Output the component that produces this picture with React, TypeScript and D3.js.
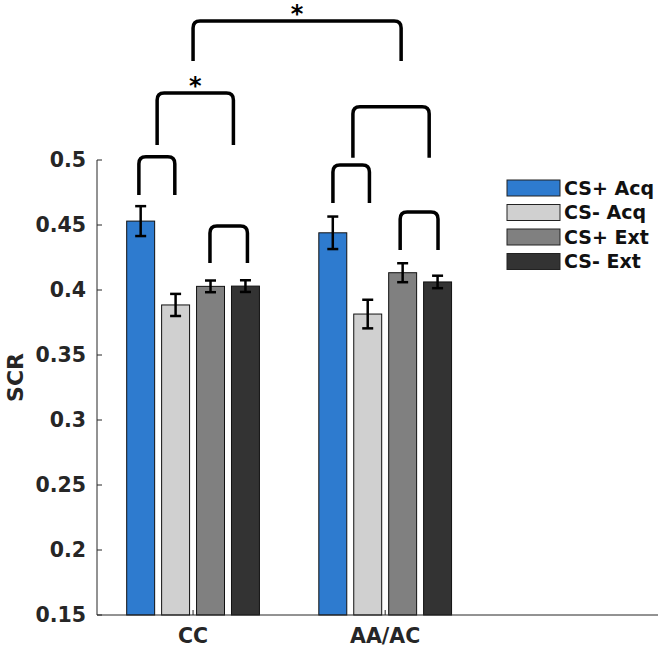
import * as d3 from "d3";
import { useEffect, useRef } from "react";

const groups = ["CC", "AA/AC"];
const conditions = ["CS+ Acq", "CS- Acq", "CS+ Ext", "CS- Ext"];
const barColors = ["#2e7bcf", "#d0d0d0", "#808080", "#333333"];

// mean SCR per condition, one array per group
const meanCC = [0.453, 0.3885, 0.4028, 0.403];
const meanAA = [0.444, 0.3815, 0.4133, 0.4062];
const errCC = [0.0115, 0.0085, 0.0045, 0.0045];
const errAA = [0.0125, 0.011, 0.0073, 0.0048];

const yTicks = [0.15, 0.2, 0.25, 0.3, 0.35, 0.4, 0.45, 0.5];

// significance brackets (x in group units, y in SCR units)
const bracketX1 = [0.718, 1.088, 0.813, 1.728, 2.078, 1.832, 1.0];
const bracketX2 = [0.905, 1.283, 1.21, 1.918, 2.275, 2.229, 2.083];
const bracketTop = [0.5025, 0.4492, 0.5515, 0.4962, 0.46, 0.541, 0.6069];
const bracketBottom = [0.4731, 0.4208, 0.5115, 0.4669, 0.4308, 0.5018, 0.5762];
const bracketStar = [false, false, true, false, false, false, true];

export default function App() {
  const ref = useRef<SVGSVGElement>(null);

  useEffect(() => {
    const width = 661,
      height = 648;
    const left = 97,
      right = 658,
      top = 160,
      bottom = 615;
    const font = "'DejaVu Sans', sans-serif";
    const axisColor = "#262626";

    const svg = d3.select(ref.current);
    svg.selectAll("*").remove();
    svg.attr("width", width).attr("height", height);

    const x = d3.scaleLinear().domain([0.5, 3.42]).range([left, right]);
    const y = d3.scaleLinear().domain([0.15, 0.5]).range([bottom, top]);

    const step = 0.1818;
    const barW = x(0.1455) - x(0);

    const means = [meanCC, meanAA];
    const errs = [errCC, errAA];
    const bars = groups.flatMap((g, gi) =>
      conditions.map((c, ci) => ({
        gi,
        ci,
        cx: x(gi + 1 + (ci - 1.5) * step),
        v: means[gi][ci],
        e: errs[gi][ci],
      }))
    );

    svg
      .append("g")
      .selectAll("rect")
      .data(bars)
      .join("rect")
      .attr("x", (d) => d.cx - barW / 2)
      .attr("y", (d) => y(d.v))
      .attr("width", barW)
      .attr("height", (d) => y(0.15) - y(d.v))
      .attr("fill", (d) => barColors[d.ci])
      .attr("stroke", "#111")
      .attr("stroke-width", 1);

    // error bars
    const eb = svg.append("g").attr("stroke", "#000").attr("stroke-width", 2.5);
    bars.forEach((d) => {
      eb.append("line")
        .attr("x1", d.cx)
        .attr("x2", d.cx)
        .attr("y1", y(d.v - d.e))
        .attr("y2", y(d.v + d.e));
      [d.v - d.e, d.v + d.e].forEach((v) => {
        eb.append("line")
          .attr("x1", d.cx - 5.5)
          .attr("x2", d.cx + 5.5)
          .attr("y1", y(v))
          .attr("y2", y(v));
      });
    });

    // axes
    const ax = svg.append("g").attr("stroke", axisColor).attr("stroke-width", 1);
    ax.append("line").attr("x1", left).attr("x2", left).attr("y1", top).attr("y2", bottom);
    ax.append("line").attr("x1", left).attr("x2", right).attr("y1", bottom).attr("y2", bottom);
    yTicks.forEach((t) => {
      ax.append("line")
        .attr("x1", left)
        .attr("x2", left + 5)
        .attr("y1", y(t))
        .attr("y2", y(t));
    });
    groups.forEach((g, gi) => {
      ax.append("line")
        .attr("x1", x(gi + 1))
        .attr("x2", x(gi + 1))
        .attr("y1", bottom)
        .attr("y2", bottom - 5);
    });

    svg
      .append("g")
      .selectAll("text")
      .data(yTicks)
      .join("text")
      .attr("x", left - 11)
      .attr("y", (d) => y(d))
      .attr("dy", "0.36em")
      .attr("text-anchor", "end")
      .attr("font-family", font)
      .attr("font-weight", "bold")
      .attr("font-size", 20.5)
      .attr("fill", axisColor)
      .text((d) => d3.format("")(d));

    svg
      .append("g")
      .selectAll("text")
      .data(groups)
      .join("text")
      .attr("x", (d, i) => x(i + 1))
      .attr("y", 643)
      .attr("text-anchor", "middle")
      .attr("font-family", font)
      .attr("font-weight", "bold")
      .attr("font-size", 20.5)
      .attr("fill", axisColor)
      .text((d) => d);

    svg
      .append("text")
      .attr("transform", `translate(23, ${(top + bottom) / 2 - 10}) rotate(-90)`)
      .attr("text-anchor", "middle")
      .attr("font-family", font)
      .attr("font-weight", "bold")
      .attr("font-size", 22)
      .attr("fill", axisColor)
      .text("SCR");

    // brackets
    const r = 7;
    const br = svg.append("g");
    bracketX1.forEach((bx, i) => {
      const x1 = x(bx),
        x2 = x(bracketX2[i]),
        yt = y(bracketTop[i]),
        yb = y(bracketBottom[i]);
      const p = d3.path();
      p.moveTo(x1, yb);
      p.lineTo(x1, yt + r);
      p.quadraticCurveTo(x1, yt, x1 + r, yt);
      p.lineTo(x2 - r, yt);
      p.quadraticCurveTo(x2, yt, x2, yt + r);
      p.lineTo(x2, yb);
      br.append("path")
        .attr("d", p.toString())
        .attr("fill", "none")
        .attr("stroke", "#000")
        .attr("stroke-width", 3.5);
      if (bracketStar[i]) {
        br.append("text")
          .attr("x", (x1 + x2) / 2)
          .attr("y", yt + 1)
          .attr("text-anchor", "middle")
          .attr("font-family", font)
          .attr("font-weight", "bold")
          .attr("font-size", 24)
          .attr("fill", "#000")
          .text("*");
      }
    });

    // legend
    const lg = svg.append("g");
    conditions.forEach((c, i) => {
      const ly = 188 + i * 24.5;
      lg.append("rect")
        .attr("x", 507)
        .attr("y", ly - 8)
        .attr("width", 53)
        .attr("height", 16)
        .attr("fill", barColors[i])
        .attr("stroke", "#222")
        .attr("stroke-width", 1);
      lg.append("text")
        .attr("x", 564)
        .attr("y", ly)
        .attr("dy", "0.36em")
        .attr("font-family", font)
        .attr("font-weight", "bold")
        .attr("font-size", 19)
        .attr("fill", "#111")
        .text(c);
    });
  }, []);

  return (
    <svg
      ref={ref}
      style={{ position: "absolute", left: 0, top: 0, display: "block", background: "#fff" }}
    />
  );
}
